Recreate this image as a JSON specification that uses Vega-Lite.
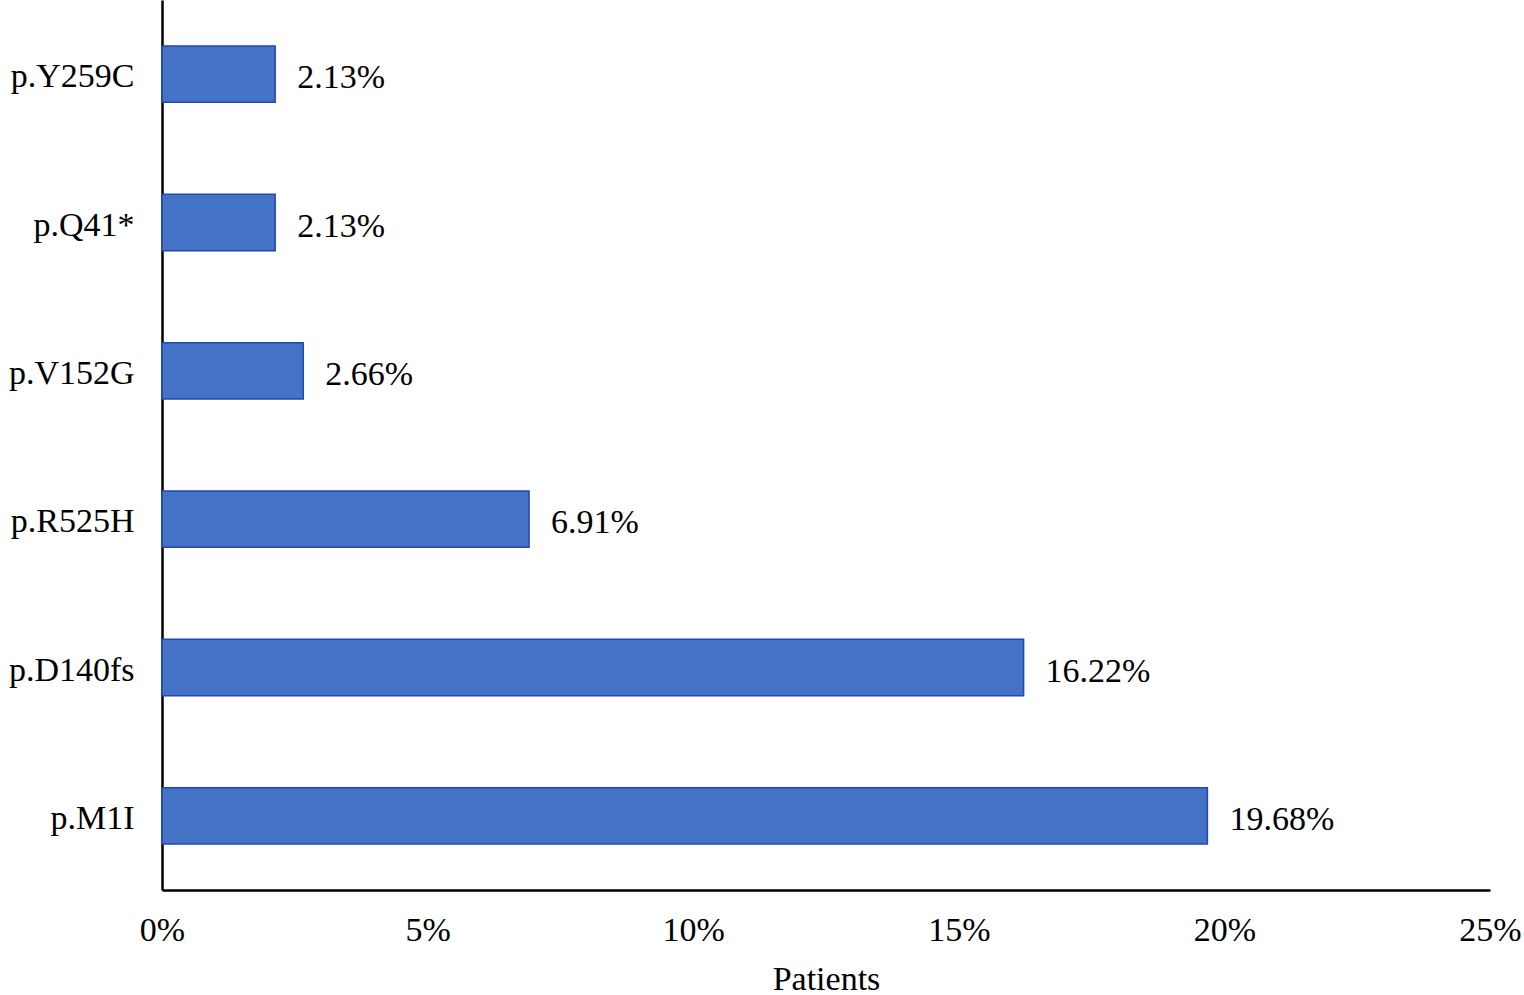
{
  "$schema": "https://vega.github.io/schema/vega-lite/v6.json",
  "width": 1328,
  "height": 890,
  "autosize": {"type": "none"},
  "padding": {"left": 162, "top": 0, "right": 34, "bottom": 105},
  "background": "white",
  "config": {
    "view": {"stroke": null},
    "font": "Liberation Serif",
    "axis": {"grid": false, "ticks": false, "tickSize": 0, "domainColor": "black", "domainWidth": 2.5, "labelColor": "black", "titleColor": "black", "labelFont": "Liberation Serif", "titleFont": "Liberation Serif"}
  },
  "data": {
    "values": [
      {"mutation": "p.Y259C", "patients": 0.0213},
      {"mutation": "p.Q41*", "patients": 0.0213},
      {"mutation": "p.V152G", "patients": 0.0266},
      {"mutation": "p.R525H", "patients": 0.0691},
      {"mutation": "p.D140fs", "patients": 0.1622},
      {"mutation": "p.M1I", "patients": 0.1968}
    ]
  },
  "encoding": {
    "y": {
      "field": "mutation",
      "type": "nominal",
      "sort": ["p.Y259C", "p.Q41*", "p.V152G", "p.R525H", "p.D140fs", "p.M1I"],
      "scale": {"paddingInner": 0.62, "paddingOuter": 0.31},
      "axis": {"title": null, "labelFontSize": 34, "labelPadding": 28, "labelAlign": "right", "labelOffset": 3}
    },
    "x": {
      "field": "patients",
      "type": "quantitative",
      "scale": {"domain": [0, 0.25], "nice": false},
      "axis": {"title": "Patients", "format": ".0%", "values": [0, 0.05, 0.1, 0.15, 0.2, 0.25], "labelFontSize": 34, "labelPadding": 23, "titleFontSize": 34, "titleFontWeight": "normal", "titlePadding": 15, "labelFlush": false}
    }
  },
  "layer": [
    {"mark": {"type": "bar", "color": "#4472C4", "stroke": "#2446B4", "strokeWidth": 1.5}},
    {"mark": {"type": "text", "align": "left", "baseline": "middle", "dx": 22, "dy": 4, "fontSize": 34, "color": "black"},
     "encoding": {"text": {"field": "patients", "type": "quantitative", "format": ".2%"}}}
  ]
}
